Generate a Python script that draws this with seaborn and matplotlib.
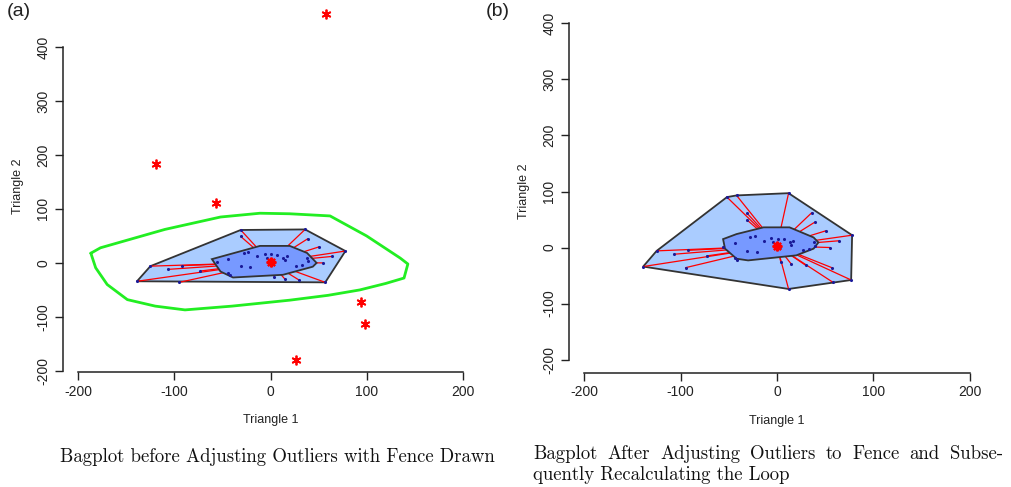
import numpy as np
import pandas as pd
import matplotlib
matplotlib.use("Agg")
import matplotlib.pyplot as plt
from matplotlib.path import Path
import seaborn as sns

# ---------------- data ----------------
# ordinary (non-outlying) observations, shared by both panels
pts_x = [-139, -125, -31, 36, 78, 57,
         -31, 39, 51, 64, 55, -107, -92, -95, 15, 30, -56, -42, 4, -73,
         -44, -28, -23, -14, -31, -6, 1, 7, 0, 13, 17, 15, 38, 39, 27, -44, 3, -4, -21, 33]
pts_y = [-34, -6, 61, 62, 22, -36,
         49, 45, 30, 12, 0, -12, -5, -36, -30, -32, 1, -22, -26, -15,
         8, 18, 20, 12, -6, 17, 16, 15, 3, 10, 12, 5, 9, 3, -5, -18, 1, 9, -8, -3]

# outliers (panel a) and the same outliers moved onto the fence (panel b)
out_x = [58, -119, -57, 94, 98, 27]
out_y = [461, 183, 111, -72, -113, -180]
adj_x = [12, -52, -42, 77, 58, 12]
adj_y = [97, 90, 93, -58, -62, -74]

# depth median
center_a = (0, 1)
center_b = (0, 3)

# bag (inner hull) and loop (outer hull) vertices
bag_a_x = [-61, -52, -39, 13, 44, 48, 38, 20, -11]
bag_a_y = [7, -16, -27, -22, -7, 0, 18.5, 31.5, 31.5]
loop_a_x = [-139, -125, -31, 36, 78, 57]
loop_a_y = [-34, -6, 61, 62, 22, -36]
fence_x = [-187, -182, -170, -149, -120, -89, -40, 20, 60, 93, 120, 139, 143, 135, 100, 62, 20, -11, -52, -110, -177]
fence_y = [18, -9, -40, -68, -80, -87, -80, -69, -60, -50, -38, -28, -2, 9, 50, 87, 91, 92, 85, 62, 28]

bag_b_x = [-56, -54, -42, -30, 20, 38, 43, 38, 13, -14, -42]
bag_b_y = [15, -2, -20, -23, -14, -2, 9, 18, 36, 36, 24]
loop_b_x = [-139, -125, -52, -42, 12, 78, 77, 12]
loop_b_y = [-34, -6, 90, 93, 97, 22, -58, -74]

xticks = [-200, -100, 0, 100, 200]
yticks = [-200, -100, 0, 100, 200, 300, 400]

# ---------------- style ----------------
sns.set_style("white")
plt.rcParams["font.family"] = ["Liberation Sans", "DejaVu Sans"]

C_LOOP = "#aaccff"
C_BAG = "#7799ff"
C_EDGE = "#333333"
C_PTS = "#1a1a99"
C_RED = "#ff0000"
C_FENCE = "#22ee22"

W, H = 1012, 487
fig = plt.figure(figsize=(W / 100, H / 100), dpi=100)


def px_axes(l, r, b, t):
    return fig.add_axes([l / W, (H - b) / H, (r - l) / W, (b - t) / H])


def draw_panel(ax, px_, py_, center, bag_x, bag_y, loop_x, loop_y):
    ax.fill(loop_x, loop_y, facecolor=C_LOOP, edgecolor=C_EDGE, lw=1.3, zorder=1)
    bag_path = Path(np.column_stack([bag_x, bag_y]))
    for x, y in zip(px_, py_):
        if not bag_path.contains_point((x, y)):
            ax.plot([center[0], x], [center[1], y], color=C_RED, lw=0.9, zorder=2)
    ax.fill(bag_x, bag_y, facecolor=C_BAG, edgecolor=C_EDGE, lw=1.3, zorder=3)
    df = pd.DataFrame({"x": px_, "y": py_})
    sns.scatterplot(data=df, x="x", y="y", ax=ax, color=C_PTS, s=5,
                    marker="o", linewidth=0, zorder=4)
    ax.plot([center[0]], [center[1]], marker=(8, 2, 0), color=C_RED,
            markersize=7, mew=1.6, zorder=5)


def style_axes(ax, ylim):
    ax.set_xlim(-216, 216)
    ax.set_ylim(*ylim)
    ax.set_xticks(xticks)
    ax.set_yticks(yticks)
    ax.set_xticklabels([str(v) for v in xticks])
    ax.set_yticklabels([str(v) for v in yticks], rotation=90, va="center")
    for s in ["top", "right"]:
        ax.spines[s].set_visible(False)
    ax.spines["left"].set_bounds(-200, 400)
    ax.spines["bottom"].set_bounds(-200, 200)
    for s in ["left", "bottom"]:
        ax.spines[s].set_color("#222222")
        ax.spines[s].set_linewidth(1.1)
    ax.tick_params(axis="both", direction="out", length=6, width=1.0,
                   color="#222222", labelsize=10, labelcolor="#222222",
                   left=True, bottom=True, pad=3)
    ax.set_xlabel("Triangle 1", fontsize=9, color="#222222", labelpad=11)
    ax.set_ylabel("Triangle 2", fontsize=9, color="#222222", labelpad=9)
    ax.patch.set_alpha(0)


# ---- panel (a)
ax1 = px_axes(63, 478, 372, 1)
draw_panel(ax1, pts_x, pts_y, center_a, bag_a_x, bag_a_y, loop_a_x, loop_a_y)
ax1.plot(fence_x + fence_x[:1], fence_y + fence_y[:1], color=C_FENCE, lw=2.0, zorder=6)
ax1.plot(out_x, out_y, linestyle="none", marker=(6, 2, 0), color=C_RED,
         markersize=7, mew=1.3, zorder=7)
style_axes(ax1, (-202, 485))

# ---- panel (b)
ax2 = px_axes(569, 985, 373, 10)
draw_panel(ax2, pts_x + adj_x, pts_y + adj_y, center_b, bag_b_x, bag_b_y, loop_b_x, loop_b_y)
style_axes(ax2, (-224, 424))

# ---- labels
fig.text(7 / W, 1 - 3 / H, "(a)", fontsize=14, va="top", ha="left", color="#222222")
fig.text(486 / W, 1 - 3 / H, "(b)", fontsize=14, va="top", ha="left", color="#222222")

cap = dict(fontfamily="cmr10", fontsize=13.5, color="#111111")
fig.text(277 / W, 1 - 457 / H, "Bagplot before Adjusting Outliers with Fence Drawn",
         ha="center", va="center", **cap)
fig.text(533 / W, 1 - 475 / H, "quently Recalculating the Loop",
         ha="left", va="center", **cap)

# justified first line of caption (b)
words = "Bagplot After Adjusting Outliers to Fence and Subse-".split()
fig.canvas.draw()
renderer = fig.canvas.get_renderer()
widths = []
for w in words:
    t = fig.text(0, 0, w, **cap)
    widths.append(t.get_window_extent(renderer).width)
    t.remove()
left, right = 533, 1003
gap = (right - left - sum(widths)) / (len(words) - 1)
xpos = left
for w, wd in zip(words, widths):
    fig.text(xpos / W, 1 - 454 / H, w, ha="left", va="center", **cap)
    xpos += wd + gap

fig.savefig("out.png", dpi=100)
